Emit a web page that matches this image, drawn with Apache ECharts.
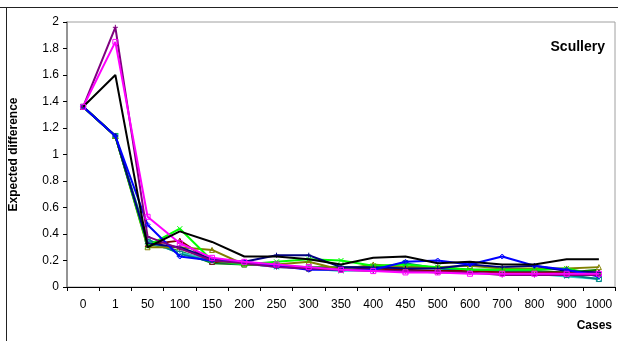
<!DOCTYPE html>
<html>
<head>
<meta charset="utf-8">
<script src="https://cdn.jsdelivr.net/npm/echarts@6/dist/echarts.min.js"></script>
<style>
  html, body { margin: 0; padding: 0; background: #fff; }
  #main { width: 618px; height: 341px; }
</style>
</head>
<body>
<div id="main"></div>
<script>
// categories (number of cases)
var cases = ['0', '1', '50', '100', '150', '200', '250', '300', '350', '400', '450', '500', '600', '700', '800', '900', '1000'];
var yTicks = [0, 0.2, 0.4, 0.6, 0.8, 1, 1.2, 1.4, 1.6, 1.8, 2];

// series values
var sBlack   = [1.36, 1.60, 0.30, 0.42, 0.34, 0.23, 0.23, 0.21, 0.17, 0.22, 0.23, 0.18, 0.19, 0.17, 0.17, 0.21, 0.21];
var sNavy    = [1.36, 1.14, 0.33, 0.30, 0.21, 0.19, 0.24, 0.24, 0.15, 0.15, 0.14, 0.14, 0.17, 0.15, 0.16, 0.12, 0.11];
var sBlue    = [1.36, 1.14, 0.47, 0.23, 0.20, 0.19, 0.16, 0.13, 0.13, 0.13, 0.19, 0.20, 0.17, 0.23, 0.16, 0.13, 0.08];
var sMagenta = [1.36, 1.85, 0.53, 0.33, 0.22, 0.19, 0.17, 0.15, 0.13, 0.12, 0.11, 0.11, 0.10, 0.10, 0.10, 0.10, 0.10];
var sPurple  = [1.36, 1.96, 0.38, 0.29, 0.20, 0.18, 0.15, 0.14, 0.13, 0.12, 0.12, 0.11, 0.11, 0.09, 0.09, 0.09, 0.09];
var sLime    = [1.36, 1.14, 0.31, 0.44, 0.20, 0.17, 0.19, 0.21, 0.20, 0.16, 0.17, 0.15, 0.13, 0.13, 0.13, 0.14, 0.09];
var sOlive   = [1.36, 1.14, 0.30, 0.30, 0.28, 0.17, 0.17, 0.19, 0.13, 0.17, 0.15, 0.15, 0.16, 0.14, 0.14, 0.14, 0.15];
var sDarkRed = [1.36, 1.14, 0.32, 0.35, 0.19, 0.18, 0.17, 0.14, 0.14, 0.14, 0.13, 0.12, 0.12, 0.11, 0.11, 0.11, 0.11];
var sTeal    = [1.36, 1.14, 0.36, 0.25, 0.19, 0.17, 0.16, 0.14, 0.14, 0.14, 0.18, 0.14, 0.12, 0.12, 0.12, 0.09, 0.06];
var sGreen   = [1.36, 1.14, 0.33, 0.27, 0.18, 0.17, 0.16, 0.15, 0.15, 0.15, 0.15, 0.15, 0.13, 0.13, 0.12, 0.11, 0.13];
var sCyan    = [1.36, 1.14, 0.34, 0.26, 0.20, 0.18, 0.15, 0.14, 0.12, 0.13, 0.12, 0.12, 0.12, 0.11, 0.10, 0.08, 0.06];

var xMark = 'path://M0,0L10,10M10,0L0,10';
var plusMark = 'path://M5,0L5,10M0,5L10,5';

function line(name, color, data, symbol, z) {
  return {
    name: name,
    type: 'line',
    data: data,
    symbol: symbol,
    symbolSize: 5,
    z: z,
    lineStyle: { color: color, width: 2 },
    itemStyle: { color: 'rgba(255,255,255,0)', borderColor: color, borderWidth: 1 },
    animation: false
  };
}

var myChart = echarts.init(document.getElementById('main'));
myChart.setOption({
  backgroundColor: '#fff',
  textStyle: { fontFamily: 'Liberation Sans, Arial, sans-serif' },
  title: {
    text: 'Scullery',
    right: 8,
    top: 35,
    textStyle: { fontSize: 14, fontWeight: 'bold', color: '#000' }
  },
  grid: {
    left: 67, right: 3, top: 22, bottom: 54,
    show: true, borderColor: '#a0a0a0', borderWidth: 1
  },
  xAxis: {
    type: 'category',
    data: cases,
    boundaryGap: true,
    axisLine: { lineStyle: { color: '#000', width: 1 } },
    axisTick: { show: true, length: 4, interval: 0, lineStyle: { color: '#000' } },
    axisLabel: { color: '#000', fontSize: 12, margin: 12, interval: 0 }
  },
  yAxis: {
    type: 'value',
    min: yTicks[0],
    max: yTicks[yTicks.length - 1],
    interval: 0.2,
    name: 'Expected difference',
    nameLocation: 'middle',
    nameGap: 47,
    nameTextStyle: { fontSize: 12, fontWeight: 'bold', color: '#000' },
    axisLine: { show: true, lineStyle: { color: '#808080', width: 1.5 } },
    axisTick: { show: true, length: 4, lineStyle: { color: '#000' } },
    axisLabel: { color: '#000', fontSize: 12, margin: 8 },
    splitLine: { show: false }
  },
  graphic: [
    { type: 'line', shape: { x1: 0, y1: 7.5, x2: 618, y2: 7.5 }, style: { stroke: '#222', lineWidth: 1 } },
    { type: 'line', shape: { x1: 6.5, y1: 7, x2: 6.5, y2: 341 }, style: { stroke: '#222', lineWidth: 1 } },
    { type: 'text', right: 6, top: 320, style: { text: 'Cases', fontSize: 12, fontWeight: 'bold', fill: '#000', fontFamily: 'Liberation Sans, Arial, sans-serif' } }
  ],
  series: [
    line('s1', '#008000', sGreen, 'emptyCircle', 2),
    line('s2', '#33cccc', sCyan, xMark, 2),
    line('s3', '#008080', sTeal, 'rect', 2),
    line('s4', '#800000', sDarkRed, 'triangle', 2),
    line('s5', '#808000', sOlive, 'triangle', 3),
    line('s6', '#00ff00', sLime, xMark, 3),
    line('s7', '#000080', sNavy, plusMark, 3),
    line('s8', '#0000ff', sBlue, 'diamond', 4),
    line('s9', '#800080', sPurple, plusMark, 4),
    line('s10', '#ff00ff', sMagenta, 'rect', 5),
    line('s11', '#000000', sBlack, 'none', 5)
  ]
});
</script>
</body>
</html>
